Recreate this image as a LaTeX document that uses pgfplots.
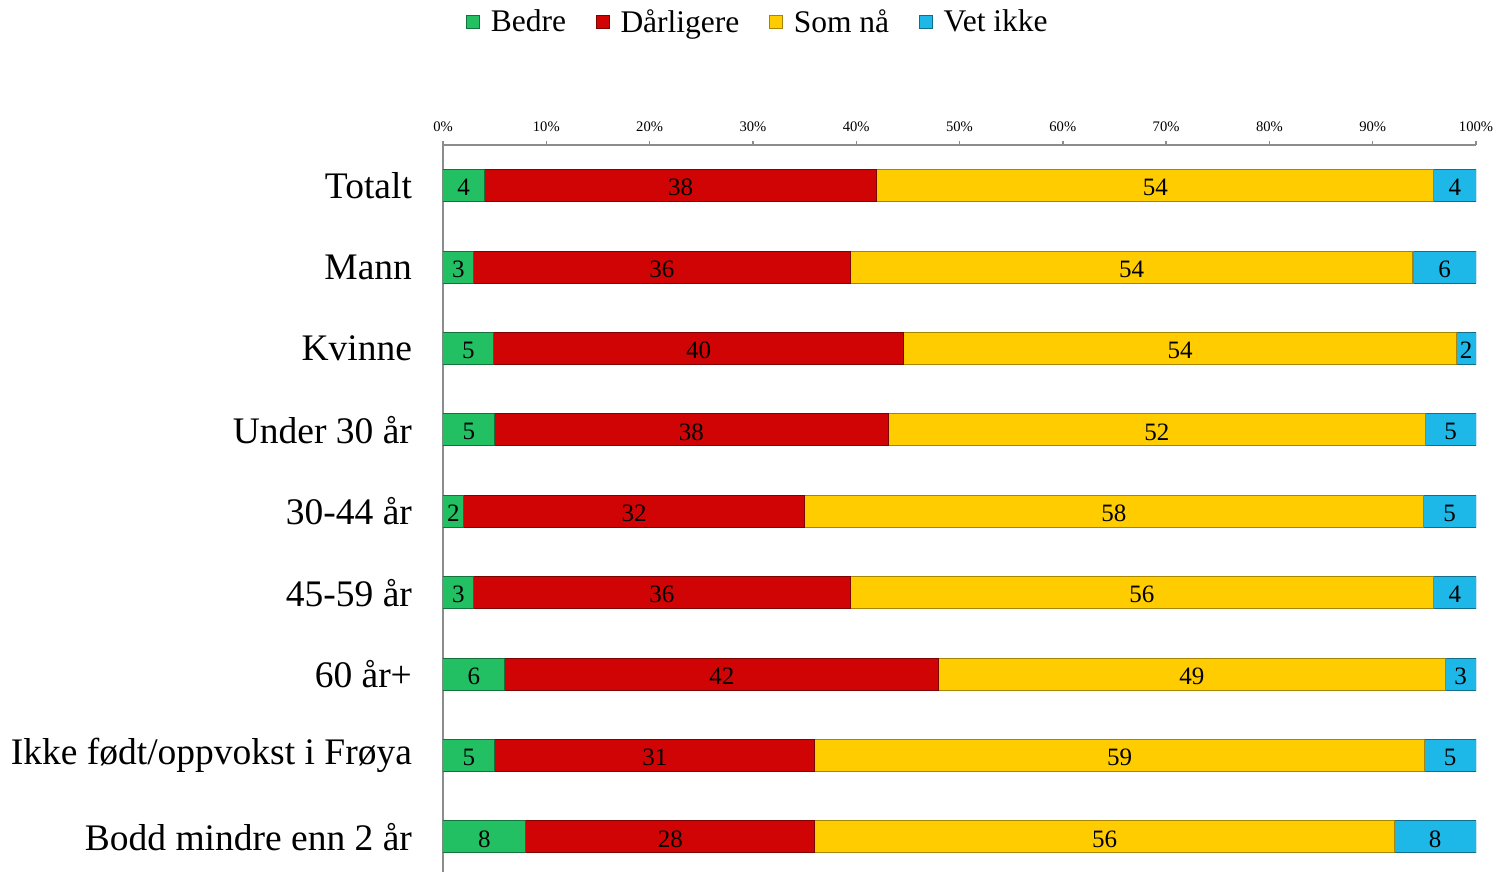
\documentclass[border=0pt]{standalone}
\usepackage{fontspec}
\setmainfont{Liberation Serif}
\usepackage{pgfplots}
\usepackage{pgfplotstable}
\pgfplotsset{compat=1.18}
\definecolor{cgreen}{RGB}{34,192,98}
\definecolor{cred}{RGB}{208,4,4}
\definecolor{cyellow}{RGB}{255,204,0}
\definecolor{cblue}{RGB}{30,184,232}
\definecolor{axgray}{RGB}{140,140,140}
\pgfplotstableread{
y g r s v lg lr ls lv
8 4.0 38.0 53.9 4.1 4 38 54 4
7 3.0 36.4 54.5 6.1 3 36 54 6
6 4.9 39.7 53.5 1.9 5 40 54 2
5 5.0 38.1 52.0 4.9 5 38 52 5
4 2.0 33.0 59.9 5.1 2 32 58 5
3 3.0 36.4 56.5 4.1 3 36 56 4
2 6.0 42.0 49.0 3.0 6 42 49 3
1 5.0 31.0 59.0 5.0 5 31 59 5
0 8.0 28.0 56.1 7.9 8 28 56 8
}\data
\begin{document}
\begin{tikzpicture}[x=1pt,y=1pt]
\useasboundingbox (-221.5,0) rectangle (527,436);
\begin{axis}[at={(0,0)}, anchor=south west, scale only axis,
  width=516.5pt, height=363.5pt,
  xbar stacked, bar width=16pt,
  xmin=0, xmax=100, ymin=-0.43, ymax=8.5,
  axis x line=top, axis y line=left,
  axis line style={-, color=axgray, line width=0.7pt},
  tick style={color=axgray, line width=0.7pt},
  xtick={0,10,...,100},
  xticklabel={\pgfmathprintnumber{\tick}\%},
  /pgf/number format/assume math mode=true,
  xticklabel style={font=\fontsize{7.3}{8}\selectfont, yshift=1pt},
  x tick label style={/pgf/number format/.cd, fixed},
  tick align=outside,
  major tick length=2pt,
  ytick={0,...,8},
  yticklabels={Bodd mindre enn 2 år, Ikke født/oppvokst i Frøya, 60 år+, 45-59 år, 30-44 år, Under 30 år, Kvinne, Mann, Totalt},
  y tick label style={font=\fontsize{18.75}{20}\selectfont, xshift=-10pt},
  ytick style={draw=none},
  minor ytick={-0.5,0.5,...,8.5},
  minor tick length=5pt,
  minor tick style={color=axgray, line width=0.7pt},
  point meta=explicit symbolic,
  nodes near coords,
  every node near coord/.append style={font=\fontsize{12.5}{13}\selectfont, anchor=center, text=black, yshift=-1pt},
  legend style={at={(0.306,1.169)}, anchor=center, draw=none, legend columns=4,
    font=\fontsize{15.75}{17}\selectfont,
    /tikz/every odd column/.append style={column sep=3.5pt},
    /tikz/every even column/.append style={column sep=13pt}},
  legend image code/.code={\draw[#1] (0pt,-3.1pt) rectangle (6.2pt,3.1pt);},
]
\addplot[draw=cgreen!60!black, line width=0.5pt, fill=cgreen]
  table[x=g, y=y, meta=lg]{\data};
\addplot[draw=cred!60!black, line width=0.5pt, fill=cred]
  table[x=r, y=y, meta=lr]{\data};
\addplot[draw=cyellow!65!black, line width=0.5pt, fill=cyellow]
  table[x=s, y=y, meta=ls]{\data};
\addplot[draw=cblue!60!black, line width=0.5pt, fill=cblue]
  table[x=v, y=y, meta=lv]{\data};
\legend{Bedre, Dårligere, Som nå, Vet ikke}
\end{axis}
\end{tikzpicture}
\end{document}
